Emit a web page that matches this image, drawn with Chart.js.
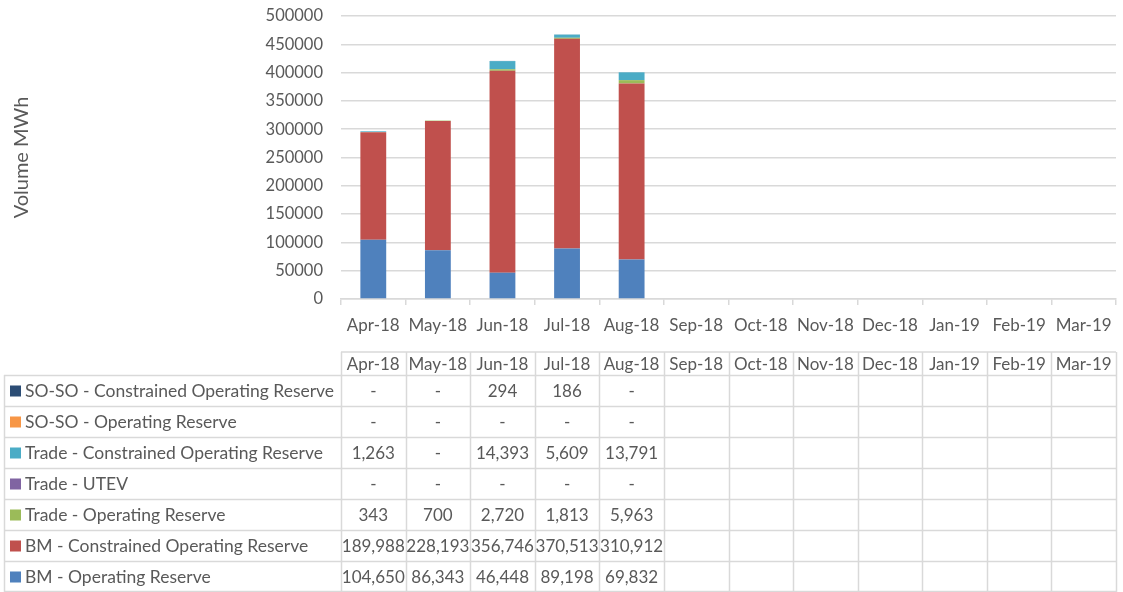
<!DOCTYPE html>
<html>
<head>
<meta charset="utf-8">
<script src="https://cdn.jsdelivr.net/npm/chart.js@4/dist/chart.umd.min.js"></script>
<style>
  html, body { margin: 0; padding: 0; background: #fff; }
  #wrap { position: relative; width: 1123px; height: 592px; }
</style>
</head>
<body>
<div id="wrap"><canvas id="chart" width="1123" height="592"></canvas></div>
<script>
// Chart data (MWh)
const months = ['Apr-18', 'May-18', 'Jun-18', 'Jul-18', 'Aug-18', 'Sep-18', 'Oct-18', 'Nov-18', 'Dec-18', 'Jan-19', 'Feb-19', 'Mar-19'];
const bmOperating = [104650, 86343, 46448, 89198, 69832, null, null, null, null, null, null, null];
const bmConstrained = [189988, 228193, 356746, 370513, 310912, null, null, null, null, null, null, null];
const tradeOperating = [343, 700, 2720, 1813, 5963, null, null, null, null, null, null, null];
const tradeUtev = [0, 0, 0, 0, 0, null, null, null, null, null, null, null];
const tradeConstrained = [1263, 0, 14393, 5609, 13791, null, null, null, null, null, null, null];
const soOperating = [0, 0, 0, 0, 0, null, null, null, null, null, null, null];
const soConstrained = [0, 0, 294, 186, 0, null, null, null, null, null, null, null];
const yTicks = [0, 50000, 100000, 150000, 200000, 250000, 300000, 350000, 400000, 450000, 500000];

const FONT = 'Lato, "Open Sans", sans-serif';
const TEXT = '#595959';
const LINE = '#d9d9d9';

// bottom-to-top stack order
const series = [
    { label: 'BM - Operating Reserve', data: bmOperating, color: '#4F81BD' },
    { label: 'BM - Constrained Operating Reserve', data: bmConstrained, color: '#C0504D' },
    { label: 'Trade - Operating Reserve', data: tradeOperating, color: '#9BBB59' },
    { label: 'Trade - UTEV', data: tradeUtev, color: '#8064A2' },
    { label: 'Trade - Constrained Operating Reserve', data: tradeConstrained, color: '#4BACC6' },
    { label: 'SO-SO - Operating Reserve', data: soOperating, color: '#F79646' },
    { label: 'SO-SO - Constrained Operating Reserve', data: soConstrained, color: '#2C4D75' }
];

function fmt(v) {
    if (v === null || v === undefined) return '';
    if (v === 0) return '-';
    return v.toLocaleString('en-GB');
}

// Data table under the chart, columns follow the x scale
const dataTable = {
    id: 'dataTable',
    afterDraw(chart) {
        const ctx = chart.ctx;
        const x = chart.scales.x;
        const n = months.length;
        const colW = (x.right - x.left) / n;
        const left = 4;
        const headTop = 352, headBottom = 375, rowH = 31;
        const rows = series.slice().reverse();
        const bottom = headBottom + rows.length * rowH;

        ctx.save();
        ctx.strokeStyle = LINE;
        ctx.lineWidth = 1.5;
        ctx.beginPath();
        // header row
        ctx.moveTo(x.left, headTop); ctx.lineTo(x.right, headTop);
        for (let i = 0; i <= n; i++) {
            const cx = Math.round(x.left + i * colW) + 0.5;
            ctx.moveTo(cx, headTop); ctx.lineTo(cx, bottom);
        }
        // body rows
        for (let r = 0; r <= rows.length; r++) {
            const y = Math.min(headBottom + r * rowH, bottom - 1) + 0.5;
            ctx.moveTo(left, y); ctx.lineTo(x.right, y);
        }
        ctx.moveTo(left + 0.5, headBottom); ctx.lineTo(left + 0.5, bottom);
        ctx.stroke();

        ctx.font = '17px ' + FONT;
        ctx.fillStyle = TEXT;
        ctx.textBaseline = 'middle';
        ctx.textAlign = 'center';
        months.forEach((m, i) => {
            ctx.fillText(m, x.left + (i + 0.5) * colW, (headTop + headBottom) / 2 + 1);
        });

        rows.forEach((s, r) => {
            const cy = headBottom + r * rowH + rowH / 2 + 1;
            ctx.fillStyle = s.color;
            ctx.fillRect(10, cy - 6, 11, 11);
            ctx.fillStyle = TEXT;
            ctx.textAlign = 'left';
            ctx.font = '17.5px ' + FONT;
            ctx.fillText(s.label, 25, cy);
            ctx.textAlign = 'center';
            ctx.font = '17px ' + FONT;
            s.data.forEach((v, i) => {
                ctx.fillText(fmt(v), x.left + (i + 0.5) * colW, cy);
            });
        });
        ctx.restore();
    }
};

try {
    new Chart(document.getElementById('chart'), {
        type: 'bar',
        data: {
            labels: months,
            datasets: series.map(s => ({
                label: s.label,
                data: s.data,
                backgroundColor: s.color,
                borderWidth: 0,
                barPercentage: 0.4,
                categoryPercentage: 1.0
            }))
        },
        options: {
            responsive: false,
            animation: false,
            layout: { padding: { top: 16, right: 7, bottom: 253, left: 0 } },
            plugins: {
                legend: { display: false },
                tooltip: { enabled: false }
            },
            scales: {
                x: {
                    stacked: true,
                    grid: { drawOnChartArea: false, drawTicks: true, tickLength: 6, color: LINE, lineWidth: 1.5, offset: true },
                    border: { display: true, color: LINE, width: 1.5 },
                    ticks: { color: TEXT, font: { family: FONT, size: 17 }, padding: 10, maxRotation: 0, autoSkip: false },
                    afterFit(scale) { scale.height = 40; scale.paddingLeft = 0; scale.paddingRight = 0; }
                },
                y: {
                    stacked: true,
                    min: 0,
                    max: 500000,
                    afterBuildTicks(scale) { scale.ticks = yTicks.map(v => ({ value: v })); },
                    grid: { color: LINE, lineWidth: 1.5, drawTicks: false },
                    border: { display: false },
                    ticks: { color: TEXT, font: { family: FONT, size: 16.5 }, padding: 18, callback: v => String(v) },
                    title: { display: true, text: 'Volume MWh', color: TEXT, font: { family: FONT, size: 20 }, padding: { top: 10, bottom: 0 } },
                    afterFit(scale) { scale.width = 341; scale.paddingTop = 0; scale.paddingBottom = 0; }
                }
            }
        },
        plugins: [dataTable]
    });
} catch (error) {
    console.error('Error initializing chart:', error);
}
</script>
</body>
</html>
